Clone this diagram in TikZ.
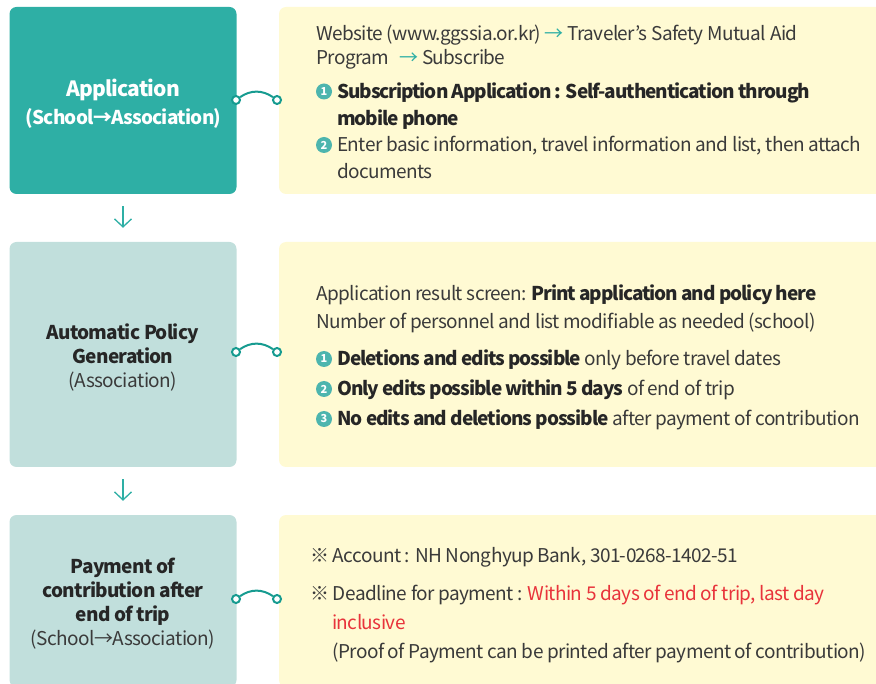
\documentclass[tikz,border=0pt]{standalone}
\usepackage{fontspec}
\setmainfont{Noto Sans CJK KR}[LetterSpace=-3,BoldFeatures={LetterSpace=-5.5}]
\newfontfamily\headfont{Noto Sans CJK KR}[LetterSpace=-3,BoldFeatures={LetterSpace=-4}]
\usepackage{xcolor}
\usetikzlibrary{arrows.meta,positioning}
\definecolor{tealbox}{HTML}{2EAFA5}
\definecolor{mint}{HTML}{C1DFDC}
\definecolor{cream}{HTML}{FFFAD3}
\definecolor{ink}{HTML}{3A3A3A}
\definecolor{warn}{HTML}{E8333B}
\definecolor{dotc}{HTML}{4DB5AE}
\definecolor{linkc}{HTML}{169B90}
\def\body{\fontsize{19}{24}\selectfont}
\tikzstyle{stage}=[rounded corners=7pt,minimum width=227pt,inner sep=0pt]
\tikzstyle{caption}=[align=center,inner sep=0pt,text=ink,font=\headfont\body]
\tikzstyle{panel}=[rounded corners=7pt,fill=cream,minimum width=611pt,inner sep=0pt]
\tikzstyle{txt}=[anchor=base west,inner sep=0pt,text=ink,font=\body]
\tikzstyle{num}=[circle,fill=dotc,inner sep=0pt,minimum size=16pt,text=white,font=\fontsize{11}{11}\selectfont\bfseries]
\tikzstyle{knob}=[circle,draw=linkc,line width=2pt,fill=white,inner sep=0pt,minimum size=8pt]
\tikzstyle{link}=[draw=linkc,line width=2pt]
\tikzstyle{flow}=[draw=tealbox,line width=1.3pt,-{Straight Barb[length=8pt,width=17pt]},shorten <=12pt,shorten >=14pt]
\begin{document}
\begin{tikzpicture}[x=1pt,y=-1pt]
  \useasboundingbox (0,0) rectangle (876,684);
  % left column
  \node[stage,fill=tealbox,minimum height=187pt] (appl) at (123,100.5) {};
  \node[stage,fill=mint,minimum height=225pt] (auto) at (123,354.5) {};
  \node[stage,fill=mint,minimum height=172pt] (pay) at (123,601) {};
  \node[caption,text=white] (appl-t) at ([yshift=-3pt]appl.center)
    {\textbf{\fontsize{21}{24}\selectfont Application}\\[4pt]\textbf{(School→Association)}};
  \node[caption] (auto-t) at ([yshift=-3pt]auto.center)
    {\textbf{\color{black!85}Automatic Policy}\\\textbf{\color{black!85}Generation}\\(Association)};
  \node[caption] (pay-t) at ([yshift=-3pt]pay.center)
    {\textbf{\color{black!85}Payment of}\\\textbf{\color{black!85}contribution after}\\\textbf{\color{black!85}end of trip}\\(School→Association)};
  \draw[flow] (appl) -- (auto);
  \draw[flow] (auto) -- (pay);
  % right column
  \node[panel,minimum height=187pt] (site) at (584.5,100.5) {};
  \node[panel,minimum height=225pt] (result) at (584.5,354.5) {};
  \node[panel,minimum height=172pt] (bank) at (584.5,601) {};
  % connectors
  \node[knob] (ka) at (236,100) {};
  \node[knob] (kb) at (277,100) {};
  \node[knob] (kc) at (236,352) {};
  \node[knob] (kd) at (277,352) {};
  \node[knob] (ke) at (236,599) {};
  \node[knob] (kf) at (277,599) {};
  \draw[link] (ka) to[bend left=35] (kb);
  \draw[link] (kc) to[bend left=35] (kd);
  \draw[link] (ke) to[bend left=35] (kf);
  % texts of the first panel
  \node[txt] (w1) at (316,41) {Website (www.ggssia.or.kr) {\color{tealbox}→} Traveler’s Safety Mutual Aid};
  \node[txt] (w2) at (316,65) {Program\hspace{10pt}{\color{tealbox}→} Subscribe};
  \node[num] (n1) at (324,91.5) {1};
  \node[txt] (s1) at (337,99) {\textbf{\color{black!85}Subscription Application : Self-authentication through}};
  \node[txt] (s1b) at (337,126) {\textbf{\color{black!85}mobile phone}};
  \node[num] (n2) at (324,145) {2};
  \node[txt] (s2) at (337,152) {Enter basic information, travel information and list, then attach};
  \node[txt] (s2b) at (337,179) {documents};
  % texts of the second panel
  \node[txt] (r1) at (316,301) {Application result screen: \textbf{\color{black!85}Print application and policy here}};
  \node[txt] (r2) at (316,329) {Number of personnel and list modifiable as needed (school)};
  \node[num] (m1) at (324,359) {1};
  \node[txt] (t1) at (337,366) {\textbf{\color{black!85}Deletions and edits possible} only before travel dates};
  \node[num] (m2) at (324,389) {2};
  \node[txt] (t2) at (337,396) {\textbf{\color{black!85}Only edits possible within 5 days} of end of trip};
  \node[num] (m3) at (324,419) {3};
  \node[txt] (t3) at (337,426) {\textbf{\color{black!85}No edits and deletions possible} after payment of contribution};
  % texts of the third panel
  \node[txt] (p1) at (310,562) {※ Account : NH Nonghyup Bank, 301-0268-1402-51};
  \node[txt] (p2) at (310,600) {※ Deadline for payment : {\color{warn}Within 5 days of end of trip, last day}};
  \node[txt,text=warn] (p3) at (332,629) {inclusive};
  \node[txt] (p4) at (332,658) {(Proof of Payment can be printed after payment of contribution)};
\end{tikzpicture}
\end{document}
